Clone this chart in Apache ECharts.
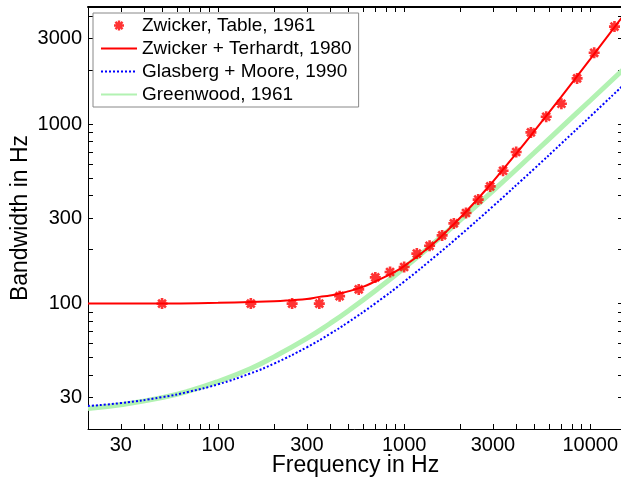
<!DOCTYPE html>
<html>
<head>
<meta charset="utf-8">
<script src="https://cdn.jsdelivr.net/npm/echarts@6/dist/echarts.min.js"></script>
<style>
  html, body { margin: 0; padding: 0; background: #fff; }
  #chart { width: 621px; height: 481px; }
</style>
</head>
<body>
<div id="chart"></div>
<script>
// 数据：Zwicker 表格 (1961)
const tableFreq = [50, 150, 250, 350, 450, 570, 700, 840, 1000, 1170, 1370, 1600, 1850, 2150, 2500, 2900, 3400, 4000, 4800, 5800, 7000, 8500, 10500, 13500];
const tableBw = [100, 100, 100, 100, 110, 120, 140, 150, 160, 190, 210, 240, 280, 320, 380, 450, 550, 700, 900, 1100, 1300, 1800, 2500, 3500];

// Zwicker + Terhardt (1980)
const ztFreq = [20, 50, 100, 150, 200, 250, 300, 350, 400, 450, 500, 600, 700, 800, 900, 1000, 1200, 1500, 2000, 2500, 3000, 4000, 5000, 7000, 10000, 15000];
const ztBw = [100, 100, 101, 102, 103, 104.5, 106, 109, 111, 114, 117, 124, 133, 142, 151, 162, 186, 225, 301, 386, 479, 685, 914, 1426, 2306, 4005];

// Glasberg + Moore (1990), Greenwood (1961)
const curveFreq = [20, 30, 50, 70, 100, 150, 200, 300, 400, 500, 700, 1000, 1500, 2000, 3000, 5000, 7000, 10000, 15000];
const gmBw = [26.9, 27.9, 30.1, 32.3, 35.5, 40.9, 46.3, 57.1, 67.9, 78.7, 100.3, 132.6, 186.6, 240.6, 348.5, 564.4, 780.3, 1104, 1644];
const gwBw = [26.0, 27.3, 29.9, 32.6, 36.8, 43.5, 50.5, 64, 77.5, 91, 118, 158, 225, 292, 425, 693, 960, 1355, 2010];

// 刻度
const xLabels = [30, 100, 300, 1000, 3000, 10000];
const xTicks = [20, 30, 40, 50, 60, 70, 80, 90, 100, 200, 300, 400, 500, 600, 700, 800, 900, 1000, 2000, 3000, 4000, 5000, 6000, 7000, 8000, 9000, 10000];
const yLabels = [30, 100, 300, 1000, 3000];
const yTicks = [20, 30, 40, 50, 60, 70, 80, 90, 100, 200, 300, 400, 500, 600, 700, 800, 900, 1000, 2000, 3000, 4000];

const xRange = [20, 15000];
const yRange = [20, 4500];

const lg = (v) => Math.log10(v);
const toPoints = (fs, bs) => fs.map((f, i) => [lg(f), lg(bs[i])]);

// 星号标记（MATLAB 的 '*'）
const starPath = 'path://M0 3.8L10 3.8L10 6.2L0 6.2Z M3.8 0L6.2 0L6.2 10L3.8 10Z ' +
  'M2.3 0.6L9.4 7.7L7.7 9.4L0.6 2.3Z M7.7 0.6L9.4 2.3L2.3 9.4L0.6 7.7Z';

const FONT = 'Liberation Sans, Arial, Helvetica, sans-serif';
const fmt = (v) => String(Math.round(Math.pow(10, v)));

function logAxis(range, ticks, opts) {
  return Object.assign({
    type: 'value',
    gridIndex: 0,
    show: true,
    min: lg(range[0]),
    max: lg(range[1]),
    axisLine: { show: true, onZero: false, lineStyle: { color: '#000', width: 1 } },
    axisTick: { show: true, inside: true, length: 5, customValues: ticks.map(lg), lineStyle: { color: '#000', width: 1 } },
    minorTick: { show: false },
    splitLine: { show: false },
    axisLabel: { show: false }
  }, opts);
}

const chart = echarts.init(document.getElementById('chart'));

chart.setOption({
  animation: false,
  backgroundColor: '#fff',
  grid: {
    left: 88, top: 7, width: 535, height: 422,
    containLabel: false, outerBoundsMode: 'none'
  },
  legend: {
    data: [
      { name: 'Zwicker, Table, 1961' },
      { name: 'Zwicker + Terhardt, 1980', itemStyle: { opacity: 0 } },
      { name: 'Glasberg + Moore, 1990', itemStyle: { opacity: 0 } },
      { name: 'Greenwood, 1961', itemStyle: { opacity: 0 } }
    ],
    orient: 'vertical',
    left: 93,
    top: 13,
    padding: [3, 7, 3, 7],
    itemWidth: 36,
    itemHeight: 10,
    itemGap: 4,
    backgroundColor: '#fff',
    borderColor: '#888',
    borderWidth: 1,
    textStyle: { color: '#000', fontSize: 19, fontFamily: FONT }
  },
  xAxis: [
    logAxis(xRange, xTicks, {
      position: 'bottom',
      name: 'Frequency in Hz',
      nameLocation: 'middle',
      nameGap: 25,
      nameMoveOverlap: false,
      nameTextStyle: { color: '#000', fontSize: 23, fontFamily: FONT },
      axisLabel: { show: true, customValues: xLabels.map(lg), formatter: fmt, color: '#000', fontSize: 20, fontFamily: FONT, margin: 6 }
    }),
    logAxis(xRange, xTicks, {
      position: 'top', offset: 0,
      axisLine: { show: true, onZero: false, lineStyle: { color: '#000', width: 2 } }
    })
  ],
  yAxis: [
    logAxis(yRange, yTicks, {
      position: 'left',
      name: 'Bandwidth in Hz',
      nameLocation: 'middle',
      nameGap: 56,
      nameMoveOverlap: false,
      nameTextStyle: { color: '#000', fontSize: 23, fontFamily: FONT },
      axisLabel: { show: true, customValues: yLabels.map(lg), formatter: fmt, color: '#000', fontSize: 20, fontFamily: FONT, margin: 6 }
    }),
    logAxis(yRange, yTicks, { position: 'right', offset: 0 })
  ],
  series: [
    {
      name: 'Greenwood, 1961',
      type: 'line',
      data: toPoints(curveFreq, gwBw),
      showSymbol: false,
      symbol: 'none',
      smooth: 0.5,
      lineStyle: { color: '#b2f2b2', width: 5 },
      itemStyle: { color: '#b2f2b2' },
      z: 1
    },
    {
      name: 'Glasberg + Moore, 1990',
      type: 'line',
      data: toPoints(curveFreq, gmBw),
      showSymbol: false,
      symbol: 'none',
      smooth: 0.5,
      lineStyle: { color: '#0000ff', width: 2, type: [2, 2] },
      itemStyle: { color: '#0000ff' },
      z: 2
    },
    {
      name: 'Zwicker + Terhardt, 1980',
      type: 'line',
      data: toPoints(ztFreq, ztBw),
      showSymbol: false,
      symbol: 'none',
      smooth: 0.5,
      lineStyle: { color: '#ff0000', width: 2 },
      itemStyle: { color: '#ff0000' },
      z: 3
    },
    {
      name: 'Zwicker, Table, 1961',
      type: 'scatter',
      data: toPoints(tableFreq, tableBw),
      symbol: starPath,
      symbolSize: 11,
      itemStyle: { color: '#ff0000' },
      z: 4
    }
  ]
});
</script>
</body>
</html>
